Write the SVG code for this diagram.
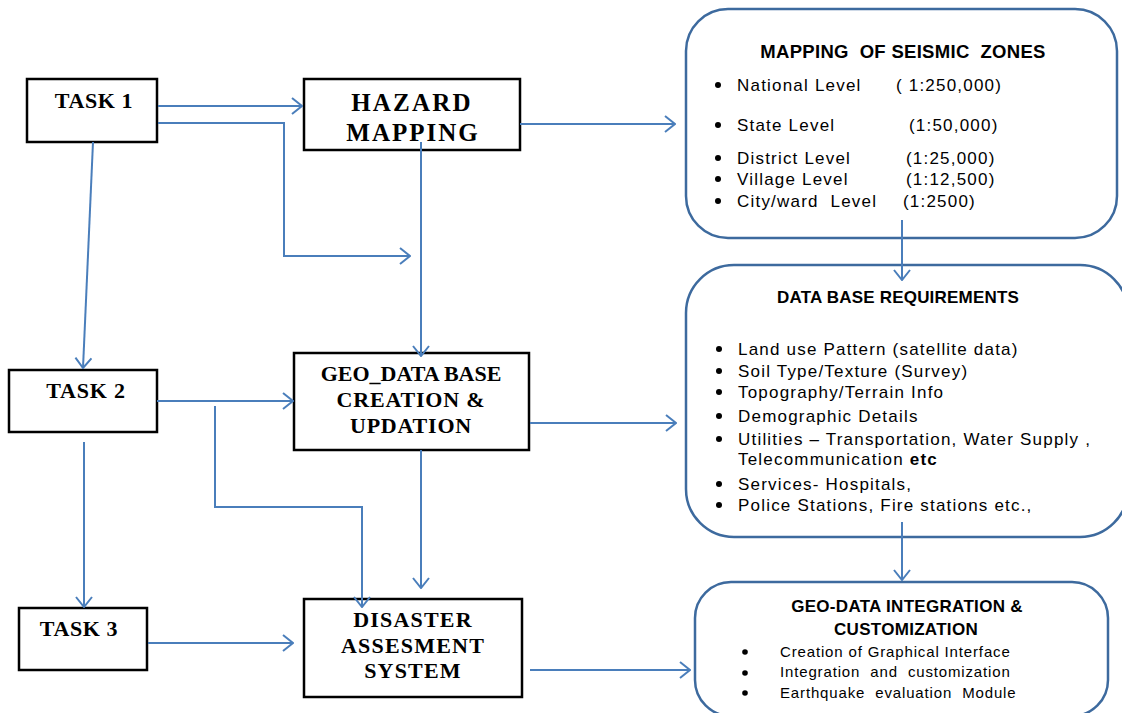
<svg xmlns="http://www.w3.org/2000/svg" width="1122" height="713" viewBox="0 0 1122 713">
<style>
.box{fill:#fff;stroke:#000;stroke-width:2.5}
.rbox{fill:#fff;stroke:#3d6a9e;stroke-width:2.5}
.ln{fill:none;stroke:#4a7ebb;stroke-width:2}
.tb{font-family:"Liberation Serif","Times New Roman",serif;font-weight:bold;fill:#000;text-anchor:middle}
.hd{font-family:"Liberation Sans",Arial,sans-serif;font-weight:bold;fill:#000;text-anchor:middle}
.it{font-family:"Liberation Sans",Arial,sans-serif;fill:#000;font-size:17px;letter-spacing:1.2px}
.it2{font-family:"Liberation Sans",Arial,sans-serif;fill:#000;font-size:15px;letter-spacing:0.85px}
.bul{fill:#000}
</style>
<defs>
<marker id="ah" viewBox="0 0 12 18" refX="11" refY="9" markerWidth="12" markerHeight="18" markerUnits="userSpaceOnUse" orient="auto">
<path d="M1,1 L11,9 L1,17" fill="none" stroke="#4a7ebb" stroke-width="2"/>
</marker>
</defs>
<rect width="1122" height="713" fill="#fff"/>

<g id="task1">
<rect class="box" x="27" y="79" width="130" height="63"/>
<text class="tb" x="94" y="108" font-size="22" letter-spacing="0.6">TASK 1</text>
</g>

<g id="hazard">
<rect class="box" x="304" y="79" width="216" height="71"/>
<text class="tb" x="412" y="111" font-size="25" letter-spacing="2.2">HAZARD</text>
<text class="tb" x="413" y="141" font-size="25" letter-spacing="2">MAPPING</text>
</g>

<g id="task2">
<rect class="box" x="9" y="370" width="148" height="62"/>
<text class="tb" x="86" y="398" font-size="22" letter-spacing="0.8">TASK 2</text>
</g>

<g id="geodb">
<rect class="box" x="294" y="353" width="235" height="97"/>
<text class="tb" x="411" y="381" font-size="22">GEO_DATA BASE</text>
<text class="tb" x="411" y="407" font-size="22" letter-spacing="0.8">CREATION &amp;</text>
<text class="tb" x="411" y="433" font-size="22" letter-spacing="0.8">UPDATION</text>
</g>

<g id="task3">
<rect class="box" x="19" y="608" width="128" height="62"/>
<text class="tb" x="79" y="636" font-size="22" letter-spacing="0.6">TASK 3</text>
</g>

<g id="disaster">
<rect class="box" x="304" y="599" width="218" height="98"/>
<text class="tb" x="413" y="627" font-size="22" letter-spacing="1.2">DISASTER</text>
<text class="tb" x="413" y="653" font-size="22" letter-spacing="1.2">ASSESMENT</text>
<text class="tb" x="413" y="678" font-size="22" letter-spacing="1.2">SYSTEM</text>
</g>

<g id="seismic">
<rect class="rbox" x="686" y="9" width="431" height="229" rx="42" ry="42"/>
<text class="hd" x="903" y="58" font-size="18.5" letter-spacing="0.3" xml:space="preserve">MAPPING  OF SEISMIC  ZONES</text>
<circle class="bul" cx="718" cy="85" r="3"/>
<circle class="bul" cx="718" cy="125" r="3"/>
<circle class="bul" cx="718" cy="158" r="3"/>
<circle class="bul" cx="718" cy="179" r="3"/>
<circle class="bul" cx="718" cy="201" r="3"/>
<text class="it" x="737" y="91">National Level</text>
<text class="it" x="896" y="91">( 1:250,000)</text>
<text class="it" x="737" y="131">State Level</text>
<text class="it" x="909" y="131">(1:50,000)</text>
<text class="it" x="737" y="164">District Level</text>
<text class="it" x="906" y="164">(1:25,000)</text>
<text class="it" x="737" y="185">Village Level</text>
<text class="it" x="906" y="185">(1:12,500)</text>
<text class="it" x="737" y="207" xml:space="preserve">City/ward  Level</text>
<text class="it" x="903" y="207">(1:2500)</text>
</g>

<g id="dbreq">
<rect class="rbox" x="686" y="265" width="442" height="272" rx="48" ry="48"/>
<text class="hd" x="898" y="303" font-size="17" letter-spacing="0.2">DATA BASE REQUIREMENTS</text>
<circle class="bul" cx="719" cy="349" r="3"/>
<circle class="bul" cx="719" cy="371" r="3"/>
<circle class="bul" cx="719" cy="392" r="3"/>
<circle class="bul" cx="719" cy="416" r="3"/>
<circle class="bul" cx="719" cy="439" r="3"/>
<circle class="bul" cx="719" cy="484" r="3"/>
<circle class="bul" cx="719" cy="505" r="3"/>
<text class="it" x="738" y="355">Land use Pattern (satellite data)</text>
<text class="it" x="738" y="377">Soil Type/Texture (Survey)</text>
<text class="it" x="738" y="398">Topography/Terrain Info</text>
<text class="it" x="738" y="422">Demographic Details</text>
<text class="it" x="738" y="445">Utilities – Transportation, Water Supply ,</text>
<text class="it" x="738" y="465">Telecommunication <tspan font-weight="bold">etc</tspan></text>
<text class="it" x="738" y="490">Services- Hospitals,</text>
<text class="it" x="738" y="511">Police Stations, Fire stations etc.,</text>
</g>

<g id="integration">
<rect class="rbox" x="695" y="582" width="413" height="134" rx="36" ry="36"/>
<text class="hd" x="907" y="612" font-size="17" letter-spacing="0.3">GEO-DATA INTEGRATION &amp;</text>
<text class="hd" x="906" y="635" font-size="17" letter-spacing="0.3">CUSTOMIZATION</text>
<circle class="bul" cx="745" cy="652" r="2.8"/>
<circle class="bul" cx="745" cy="673" r="2.8"/>
<circle class="bul" cx="745" cy="693" r="2.8"/>
<text class="it2" x="780" y="657">Creation of Graphical  Interface</text>
<text class="it2" x="780" y="677" xml:space="preserve">Integration  and  customization</text>
<text class="it2" x="780" y="698" xml:space="preserve">Earthquake  evaluation  Module</text>
</g>

<g id="connectors">
<line class="ln" x1="158" y1="106" x2="302" y2="106" marker-end="url(#ah)"/>
<polyline class="ln" points="158,123 284,123 284,256 410,256" marker-end="url(#ah)"/>
<line class="ln" x1="421" y1="142" x2="421" y2="356" marker-end="url(#ah)"/>
<line class="ln" x1="520" y1="124" x2="675" y2="124" marker-end="url(#ah)"/>
<line class="ln" x1="93" y1="142" x2="83" y2="368" marker-end="url(#ah)"/>
<line class="ln" x1="157" y1="401" x2="293" y2="401" marker-end="url(#ah)"/>
<polyline class="ln" points="215,406 215,507 362,507 362,607" marker-end="url(#ah)"/>
<line class="ln" x1="421" y1="450" x2="421" y2="588" marker-end="url(#ah)"/>
<line class="ln" x1="530" y1="423" x2="676" y2="423" marker-end="url(#ah)"/>
<line class="ln" x1="84" y1="442" x2="84" y2="607" marker-end="url(#ah)"/>
<line class="ln" x1="148" y1="643" x2="293" y2="643" marker-end="url(#ah)"/>
<line class="ln" x1="530" y1="670" x2="690" y2="670" marker-end="url(#ah)"/>
<line class="ln" x1="902" y1="220" x2="902" y2="280" marker-end="url(#ah)"/>
<line class="ln" x1="902" y1="522" x2="902" y2="580" marker-end="url(#ah)"/>
</g>
</svg>
